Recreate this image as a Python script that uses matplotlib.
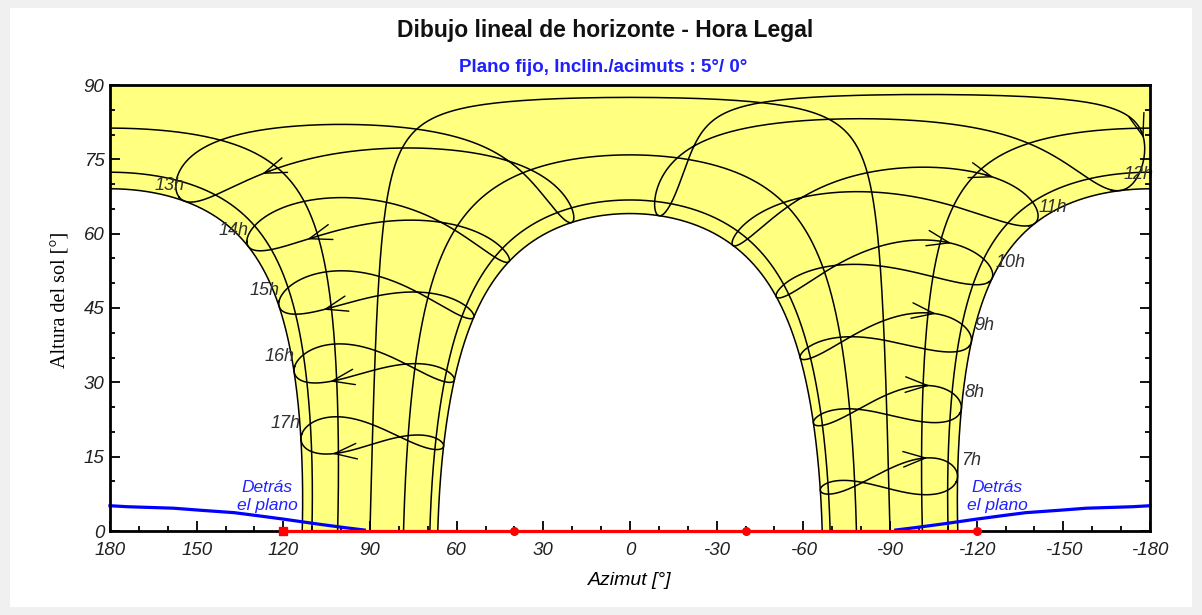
import numpy as np
import matplotlib.pyplot as plt
from matplotlib.patches import Rectangle

plt.rcParams['axes.unicode_minus'] = False

# site and plane (southern hemisphere: azimuth 0 = north, west positive)
latitude = -2.5         # deg
clock_shift = -18.0     # mean solar time minus legal time [min]
plane_tilt = 5.0
plane_azimuth = 0.0

# declination of the seven sun paths [deg], 22 December ... 22 June
path_decl = [-23.44, -20.1, -11.2, 0.0, 11.6, 20.7, 23.44]

# legal hours of the hour lines
hour_list = [7, 8, 9, 10, 11, 12, 13, 14, 15, 16, 17]
arrow_day = 302
label_day = 356     # 22 December

# behind-the-plane limit (west side, mirrored for east)
behind_az = [180, 174, 158, 149, 137, 129, 120, 108, 99, 92]
behind_alt = [5.1, 4.9, 4.6, 4.2, 3.7, 3.1, 2.4, 1.4, 0.7, 0.2]

# horizon points
horizon_az = [120, 40, -40, -120]
horizon_alt = [0, 0, 0, 0]

x_ticks = [180, 150, 120, 90, 60, 30, 0, -30, -60, -90, -120, -150, -180]
y_ticks = [0, 15, 30, 45, 60, 75, 90]

YELLOW = '#ffff80'
FONT = 'Liberation Sans'


def sun_year(day):
    b = 2 * np.pi * (np.asarray(day, float) - 1) / 365
    decl = np.degrees(0.006918 - 0.399912 * np.cos(b) + 0.070257 * np.sin(b)
                      - 0.006758 * np.cos(2 * b) + 0.000907 * np.sin(2 * b)
                      - 0.002697 * np.cos(3 * b) + 0.00148 * np.sin(3 * b))
    eot = 229.18 * (0.000075 + 0.001868 * np.cos(b) - 0.032077 * np.sin(b)
                    - 0.014615 * np.cos(2 * b) - 0.040849 * np.sin(2 * b))
    return decl, eot


def sun_position(decl, hour_angle):
    lat = np.radians(latitude)
    d = np.radians(decl)
    h = np.radians(hour_angle)
    sin_alt = np.sin(lat) * np.sin(d) + np.cos(lat) * np.cos(d) * np.cos(h)
    alt = np.degrees(np.arcsin(sin_alt))
    # azimuth from south, west positive
    az = np.degrees(np.arctan2(np.sin(h) * np.cos(d),
                               np.cos(h) * np.cos(d) * np.sin(lat) - np.sin(d) * np.cos(lat)))
    if latitude < 0:
        az = (180 - az + 180) % 360 - 180
    return az, alt


def hour_angle(hour, eot):
    return 15.0 * (hour + (clock_shift + eot) / 60.0 - 12.0)


def pieces(az, alt):
    # split a track where it goes under the horizon or crosses +-180
    out, cur = [], []
    for i in range(len(az)):
        if alt[i] < 0:
            if len(cur) > 1:
                out.append(np.array(cur))
            cur = []
            continue
        if cur and abs(az[i] - cur[-1][0]) > 180:
            if len(cur) > 1:
                out.append(np.array(cur))
            cur = []
        cur.append((az[i], alt[i]))
    if len(cur) > 1:
        out.append(np.array(cur))
    return out


fig = plt.figure(figsize=(12.02, 6.15), dpi=100)
fig.patch.set_facecolor('#f0f0f0')
fig.patches.append(Rectangle((10 / 1202, 8 / 615), 1182 / 1202, 599 / 615,
                             transform=fig.transFigure, facecolor='white',
                             edgecolor='none', zorder=-1))
ax = fig.add_axes([110 / 1202, 84 / 615, 1040 / 1202, 446 / 615])
ax.set_facecolor(YELLOW)

h_grid = np.linspace(-180, 180, 2881)

# sky never reached by the sun: below the two solstice paths
for decl in (path_decl[0], path_decl[-1]):
    az, alt = sun_position(decl, h_grid)
    for seg in pieces(az, alt):
        order = np.argsort(seg[:, 0])
        ax.fill_between(seg[order, 0], 0, seg[order, 1], color='white', lw=0, zorder=1)

# sun paths
for decl in path_decl:
    az, alt = sun_position(decl, h_grid)
    for seg in pieces(az, alt):
        ax.plot(seg[:, 0], seg[:, 1], color='black', lw=1.1, zorder=3)

# hour lines (analemma over the year)
days = np.arange(1, 366.5, 0.5)
year_decl, year_eot = sun_year(days)
for hour in hour_list:
    az, alt = sun_position(year_decl, hour_angle(hour, year_eot))
    az = np.append(az, az[0])
    alt = np.append(alt, alt[0])
    for seg in pieces(az, alt):
        ax.plot(seg[:, 0], seg[:, 1], color='black', lw=1.1, zorder=3)

    # direction arrow
    d0, e0 = sun_year([arrow_day - 3, arrow_day])
    a0, h0 = sun_position(d0, hour_angle(hour, e0))
    ax.annotate('', xy=(a0[1], h0[1]), xytext=(a0[0], h0[0]),
                arrowprops=dict(arrowstyle='->,head_length=0.8,head_width=0.28',
                                color='black', lw=1.0, shrinkA=0, shrinkB=0,
                                mutation_scale=20), zorder=4)

    # hour label
    dl, el = sun_year(label_day)
    la, lh = sun_position(dl, hour_angle(hour, el))
    west = la > 0
    ax.annotate('%dh' % hour, xy=(la, lh), xytext=(0 if west else 2.5, 11.5),
                textcoords='offset points', ha='right' if west else 'left', va='center',
                fontsize=13, style='italic', color='#303030', family=FONT, zorder=5)

# behind the plane
b_az = np.array(behind_az, float)
b_alt = np.array(behind_alt, float)
for side in (1, -1):
    ax.plot(side * b_az, b_alt, color='#0000ff', lw=2.3, zorder=5, clip_on=False)
for x_txt in (125.6, -127.0):
    ax.text(x_txt, 7.0, 'Detrás\nel plano', color='#2222ff', fontsize=12.5, style='italic',
            family=FONT, ha='center', va='center', linespacing=1.25, zorder=6)

# horizon
ax.plot(horizon_az, horizon_alt, color='#ff0000', lw=2.3, zorder=9, clip_on=False)
ax.plot(horizon_az[:1], horizon_alt[:1], 's', color='#ff0000', ms=5.5, zorder=10, clip_on=False)
ax.plot(horizon_az[1:], horizon_alt[1:], 'o', color='#ff0000', ms=5.5, zorder=10, clip_on=False)

ax.set_xlim(180, -180)
ax.set_ylim(0, 90)
ax.set_xticks(x_ticks)
ax.set_xticks(np.arange(-180, 181, 10), minor=True)
ax.set_yticks(y_ticks)
ax.set_yticks(np.arange(0, 91, 5), minor=True)
ax.tick_params(which='both', direction='in', right=True, top=False, width=1.3, color='black')
ax.tick_params(which='major', length=7, labelsize=13.5)
ax.tick_params(axis='x', which='major', pad=8)
ax.tick_params(axis='y', which='major', pad=4)
ax.tick_params(which='minor', length=3.5)
for lab in ax.get_xticklabels() + ax.get_yticklabels():
    lab.set_fontstyle('italic')
    lab.set_family(FONT)
    lab.set_color('#202020')
for sp in ax.spines.values():
    sp.set_linewidth(2.0)
    sp.set_zorder(8)

ax.set_xlabel('Azimut [°]', fontsize=14, style='italic', family=FONT, labelpad=9)
ax.set_ylabel('Altura del sol [°]', fontsize=14.5, family='Liberation Serif')
ax.yaxis.set_label_coords(-0.038, 0.518)

fig.text(605 / 1202, 1 - 31 / 615, 'Dibujo lineal de horizonte - Hora Legal', ha='center',
         va='center', fontsize=16.5, weight='bold', family=FONT, color='#111111')
fig.text(603 / 1202, 1 - 67 / 615, 'Plano fijo, Inclin./acimuts : 5°/ 0°', ha='center',
         va='center', fontsize=13.5, weight='bold', family=FONT, color='#2020ff')

fig.savefig('out.png', dpi=100, facecolor=fig.get_facecolor())
